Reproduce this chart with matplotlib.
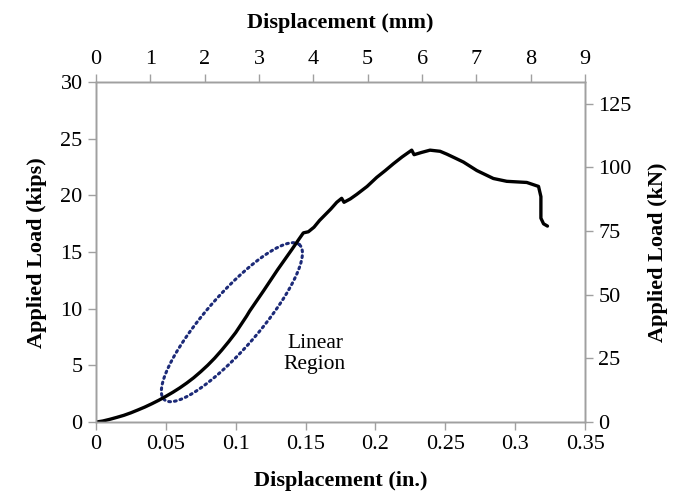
import numpy as np
import matplotlib
matplotlib.use("Agg")
import matplotlib.pyplot as plt

# Data
disp_in = [0, 0.005, 0.01, 0.015, 0.02, 0.025, 0.03, 0.035, 0.04, 0.045, 0.05, 0.055,
           0.06, 0.065, 0.07, 0.075, 0.08, 0.085, 0.09, 0.095, 0.10, 0.1078,
           0.11, 0.12, 0.13, 0.14, 0.145, 0.1484, 0.152, 0.156, 0.160, 0.168,
           0.1723, 0.1758, 0.1775, 0.182, 0.1866, 0.194, 0.2009, 0.207, 0.2128, 0.219,
           0.2259, 0.2276, 0.233, 0.239, 0.2462, 0.251, 0.257, 0.2629, 0.2725, 0.2843,
           0.2939, 0.3082, 0.3166, 0.3183, 0.3183, 0.3202, 0.323]
load_kips = [0, 0.1, 0.25, 0.42, 0.6, 0.82, 1.07, 1.33, 1.62, 1.93, 2.27, 2.63,
             3.02, 3.45, 3.92, 4.45, 5.02, 5.65, 6.35, 7.1, 7.9, 9.35,
             9.8, 11.6, 13.45, 15.2, 16.1, 16.7, 16.8, 17.2, 17.8, 18.8,
             19.4, 19.75, 19.4, 19.7, 20.1, 20.8, 21.6, 22.2, 22.8, 23.4,
             24.0, 23.6, 23.8, 24.0, 23.9, 23.65, 23.3, 22.95, 22.2, 21.5,
             21.25, 21.15, 20.8, 19.9, 18.0, 17.5, 17.3]

x_ticks_in = [0, 0.05, 0.1, 0.15, 0.2, 0.25, 0.3, 0.35]
x_tick_labels_in = ['0', '0.05', '0.1', '0.15', '0.2', '0.25', '0.3', '0.35']
y_ticks_kips = [0, 5, 10, 15, 20, 25, 30]
x_ticks_mm = [0, 1, 2, 3, 4, 5, 6, 7, 8, 9]
y_ticks_kn = [0, 25, 50, 75, 100, 125]
KIP_TO_KN = 4.448

# Ellipse annotation (data units)
ell_center = (0.0973, 8.82)
ell_major = (0.0483, 6.84)
ell_minor = (-0.0146, 1.56)

plt.rcParams['font.family'] = ['Liberation Serif', 'DejaVu Serif']
gray = '#a0a0a0'

fig = plt.figure(figsize=(6.75, 4.92), dpi=100)
ax = fig.add_axes([0.142, 0.142, 0.725, 0.691])

ax.plot(disp_in, load_kips, color='black', lw=2.4, solid_joinstyle='round',
        solid_capstyle='round', zorder=3)

t = np.linspace(0, 2 * np.pi, 300)
ex = ell_center[0] + ell_major[0] * np.cos(t) + ell_minor[0] * np.sin(t)
ey = ell_center[1] + ell_major[1] * np.cos(t) + ell_minor[1] * np.sin(t)
ax.plot(ex, ey, color='#1c2a78', lw=2.2, linestyle=(0, (0.6, 1.3)),
        dash_capstyle='round', zorder=2)

ax.text(0.1567, 6.0, 'Linear\nRegion', ha='center', va='center', fontsize=15.5,
        linespacing=1.1)

ax.set_xlim(0, 0.35)
ax.set_ylim(0, 30)
ax.set_xticks(x_ticks_in)
ax.set_xticklabels(x_tick_labels_in)
ax.set_yticks(y_ticks_kips)
ax.set_xlabel('Displacement (in.)', fontsize=16, fontweight='bold', labelpad=12)
ax.set_ylabel('Applied Load (kips)', fontsize=16, fontweight='bold', labelpad=10)

axt = ax.twiny()
axt.set_xlim(0, 9)
axt.set_xticks(x_ticks_mm)
axt.set_xlabel('Displacement (mm)', fontsize=16, fontweight='bold', labelpad=16)

axr = ax.twinx()
axr.set_ylim(0, 30 * KIP_TO_KN)
axr.set_yticks(y_ticks_kn)
axr.set_ylabel('Applied Load (kN)', fontsize=16, fontweight='bold', labelpad=12)

for a in (ax, axt, axr):
    for s in a.spines.values():
        s.set_color(gray)
        s.set_linewidth(1.0)
    a.tick_params(colors=gray, labelcolor='black', labelsize=16, length=6, width=1.0,
                  direction='out')

fig.savefig('out.png', dpi=100)
